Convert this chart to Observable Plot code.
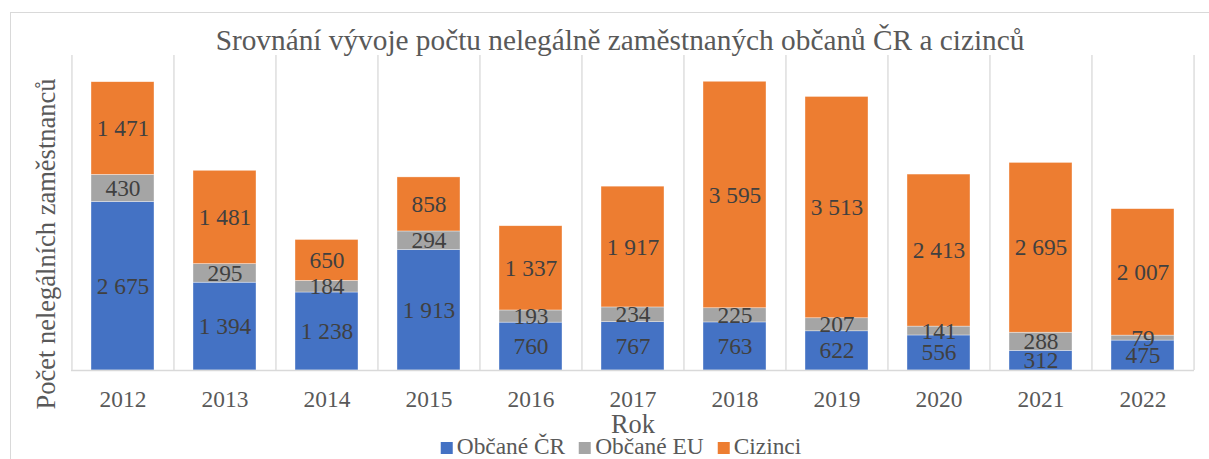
<!DOCTYPE html>
<html>
<head>
<meta charset="utf-8">
<script src="https://cdn.jsdelivr.net/npm/d3@7"></script>
<script src="https://cdn.jsdelivr.net/npm/@observablehq/plot@0.6"></script>
<style>
  html, body { margin: 0; padding: 0; background: #fff; overflow: hidden; }
  #wrap { position: relative; width: 1209px; height: 459px; overflow: hidden; font-family: 'Liberation Serif', serif; }
  #border { position: absolute; left: 10px; top: 12px; width: 1230px; height: 480px; border: 1.3px solid #d9d9d9; box-sizing: border-box; }
  #chart { position: absolute; left: 0; top: 0; }
  .lbl { position: absolute; white-space: nowrap; line-height: 1; color: #595959; font-family: 'Liberation Serif', serif; }
  #title { left: 620px; top: 25.5px; font-size: 29.3px; transform: translateX(-50%); }
  #ylab { left: 46px; top: 244px; font-size: 26.5px; transform: translate(-50%, -50%) rotate(-90deg); }
  #xlab { left: 633px; top: 410.9px; font-size: 26.4px; transform: translateX(-50%); }
  #legend { left: 621px; top: 435.4px; font-size: 23.4px; transform: translateX(-50%); }
  .item { display: inline-block; margin: 0 7px; }
  .sw { display: inline-block; width: 12px; height: 12px; margin-right: 4px; }
</style>
</head>
<body>
<div id="wrap">
  <div id="border"></div>
  <div id="chart"></div>
  <div class="lbl" id="title"></div>
  <div class="lbl" id="ylab"></div>
  <div class="lbl" id="xlab"></div>
  <div class="lbl" id="legend"></div>
</div>
<script>
const titleText = "Srovnání vývoje počtu nelegálně zaměstnaných občanů ČR a cizinců";
const yLabel = "Počet nelegálních zaměstnanců";
const xLabel = "Rok";
const years = ["2012","2013","2014","2015","2016","2017","2018","2019","2020","2021","2022"];
const series = ["Občané ČR","Občané EU","Cizinci"];
const colors = ["#4472c4","#a5a5a5","#ed7d31"];
const obcaneCR = [2675,1394,1238,1913,760,767,763,622,556,312,475];
const obcaneEU = [430,295,184,294,193,234,225,207,141,288,79];
const cizinci = [1471,1481,650,858,1337,1917,3595,3513,2413,2695,2007];
const yMax = 5000;

const values = [obcaneCR, obcaneEU, cizinci];
const data = years.flatMap((y, i) => series.map((s, j) => ({year: y, series: s, value: values[j][i]})));
const fmt = v => d3.format(",")(v).replace(/,/g, "\u00a0");

const W = 1209, H = 459, mL = 71, mR = 15, mT = 55, mB = 89;
const step = (W - mL - mR) / years.length;

const chart = Plot.plot({
  width: W, height: H,
  marginTop: mT, marginLeft: mL, marginRight: mR, marginBottom: mB,
  style: "font-family: 'Liberation Serif', serif; background: transparent; overflow: visible;",
  x: {domain: years, paddingInner: 0.38, paddingOuter: 0.19, label: null},
  y: {domain: [0, yMax], axis: null},
  color: {domain: series, range: colors},
  marks: [
    Plot.ruleX(years, {x: d => d, dx: -step / 2, y1: 0, y2: yMax, stroke: "#d9d9d9", strokeWidth: 1.3}),
    Plot.ruleX(years.slice(-1), {x: d => d, dx: step / 2, y1: 0, y2: yMax, stroke: "#d9d9d9", strokeWidth: 1.3}),
    Plot.barY(data, {x: "year", y: "value", z: "series", fill: "series", stroke: "#fff", strokeWidth: 0.6, strokeOpacity: 0.6}),
    Plot.ruleY([0], {stroke: "#d9d9d9", strokeWidth: 1.3}),
    Plot.text(data, Plot.stackY({x: "year", y: "value", z: "series", text: d => fmt(d.value), fill: "#404040", fontSize: 23.4, fontFamily: "Liberation Serif"})),
    Plot.axisX({tickSize: 0, tickPadding: 20, fontSize: 23.4, fill: "#595959", fontFamily: "Liberation Serif", label: null})
  ]
});
document.getElementById("chart").appendChild(chart);
document.getElementById("title").textContent = titleText;
document.getElementById("ylab").textContent = yLabel;
document.getElementById("xlab").textContent = xLabel;
const leg = document.getElementById("legend");
series.forEach((s, i) => {
  const it = document.createElement("span");
  it.className = "item";
  const sw = document.createElement("span");
  sw.className = "sw";
  sw.style.background = colors[i];
  it.appendChild(sw);
  it.appendChild(document.createTextNode(s));
  leg.appendChild(it);
});
</script>
</body>
</html>
